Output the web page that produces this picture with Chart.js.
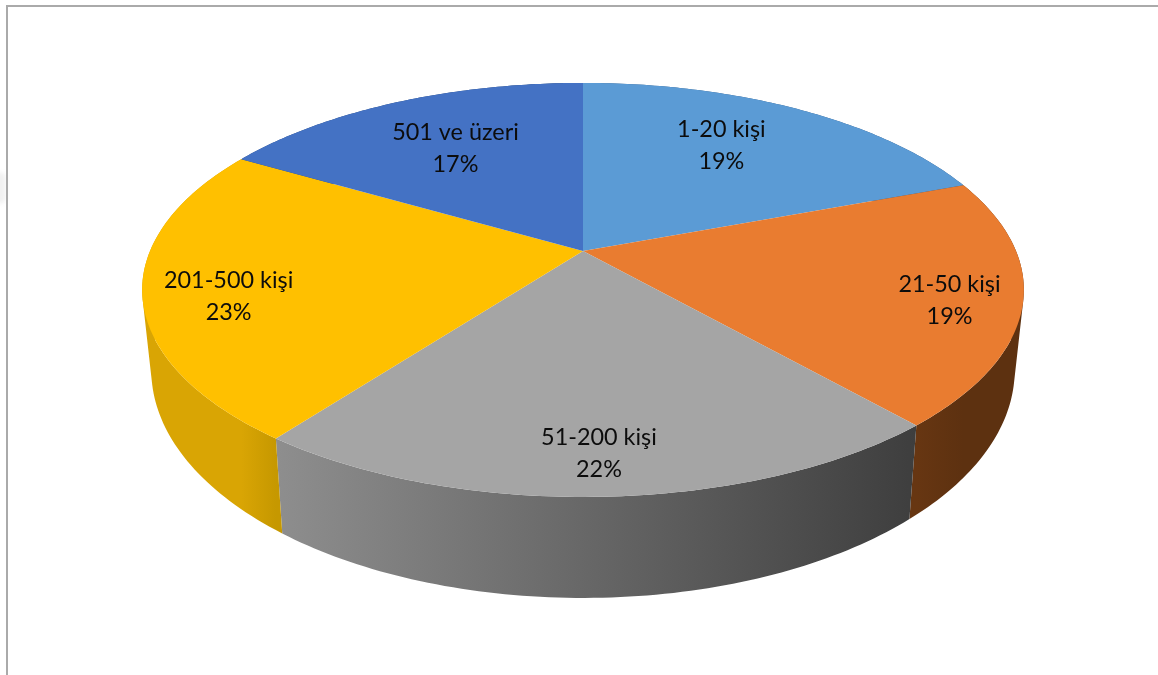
<!DOCTYPE html>
<html>
<head>
<meta charset="utf-8">
<title>Pie</title>
<script src="https://cdn.jsdelivr.net/npm/chart.js@4/dist/chart.umd.js"></script>
<style>
  html, body { margin: 0; padding: 0; background: #fff; overflow: hidden; }
  #frame { position: absolute; left: 6px; top: 5px; right: -4px; bottom: -4px;
           border-top: 2px solid #aaa; border-left: 2px solid #aaa; }
  #smudge { position: absolute; left: -8px; top: 172px; width: 14px; height: 32px;
            background: #f1f1f1; border-radius: 7px; filter: blur(2px); }
  #pie { position: absolute; left: 0; top: 0; }
</style>
</head>
<body>
<div id="smudge"></div>
<div id="frame"></div>
<canvas id="pie" width="1158" height="675"></canvas>
<script>
var categories = ['1-20 kişi', '21-50 kişi', '51-200 kişi', '201-500 kişi', '501 ve üzeri'];
var shares = [19.3, 19.2, 21.8, 23.1, 16.6];
var topColors = ['#5b9bd5', '#e97c30', '#a5a5a5', '#ffc000', '#4472c4'];
var wallLeft = ['#37608a', '#673612', '#8e8e8e', '#d9a504', '#2a4a80'];
var wallRight = ['#2f5480', '#5d3110', '#3e3e3e', '#c69800', '#22406f'];

// label placement on the disc: radius fraction and turn (deg) away from the slice middle
var labelRadius = [0.69, 0.84, 0.85, 0.816, 0.66];
var labelTurn = [-4, 2, 0.2, -3.7, 0];

// perspective of the tilted disc, top face and bottom face
var topFace = { x: 583, y: 251, a: 433, b: 199.7 };
var bottomFace = { x: 583, y: 327, a: 424, b: 220 };
var lean = -0.188;

function project(face, angle, r) {
  var u = Math.cos(angle) * r;
  var v = Math.sin(angle) * r;
  var d = 1 + lean * v;
  return { x: face.x + face.a * u / d, y: face.y + face.b * v / d };
}

function rim(ctx, face, from, to) {
  var steps = 80;
  for (var i = 0; i <= steps; i++) {
    var p = project(face, from + (to - from) * i / steps, 1);
    ctx.lineTo(p.x, p.y);
  }
}

// adds a quad to the path, always with the same winding so overlaps never cancel
function addQuad(ctx, q) {
  var area = 0;
  for (var i = 0; i < 4; i++) {
    var n = q[(i + 1) % 4];
    area += q[i].x * n.y - n.x * q[i].y;
  }
  if (area < 0) q.reverse();
  ctx.moveTo(q[0].x, q[0].y);
  ctx.lineTo(q[1].x, q[1].y);
  ctx.lineTo(q[2].x, q[2].y);
  ctx.lineTo(q[3].x, q[3].y);
  ctx.closePath();
}

var disc3d = {
  id: 'disc3d',
  beforeDatasetDraw: function (chart) {
    var ctx = chart.ctx;
    var arcs = chart.getDatasetMeta(0).data;
    ctx.save();

    // side walls first, the top face covers whatever is behind
    arcs.forEach(function (arc, i) {
      var a = project(topFace, arc.startAngle, 1);
      var b = project(topFace, arc.endAngle, 1);
      var grad = ctx.createLinearGradient(Math.min(a.x, b.x), 0, Math.max(a.x, b.x), 0);
      grad.addColorStop(0, wallLeft[i]);
      grad.addColorStop(1, wallRight[i]);
      ctx.fillStyle = grad;
      var steps = 80;
      ctx.beginPath();
      for (var s = 0; s < steps; s++) {
        var from = arc.startAngle + (arc.endAngle - arc.startAngle) * s / steps;
        var to = arc.startAngle + (arc.endAngle - arc.startAngle) * (s + 1) / steps;
        addQuad(ctx, [
          project(topFace, from, 1),
          project(topFace, to, 1),
          project(bottomFace, to, 1),
          project(bottomFace, from, 1)
        ]);
      }
      ctx.fill();
    });

    arcs.forEach(function (arc, i) {
      ctx.beginPath();
      ctx.moveTo(topFace.x, topFace.y);
      rim(ctx, topFace, arc.startAngle, arc.endAngle);
      ctx.closePath();
      ctx.fillStyle = topColors[i];
      ctx.fill();
    });

    ctx.font = '23.4px Lato';
    ctx.fillStyle = '#0c0c0c';
    ctx.textAlign = 'center';
    ctx.textBaseline = 'middle';
    arcs.forEach(function (arc, i) {
      var mid = (arc.startAngle + arc.endAngle) / 2 + labelTurn[i] * Math.PI / 180;
      var p = project(topFace, mid, labelRadius[i]);
      ctx.fillText(categories[i], p.x + 1, p.y - 15);
      ctx.fillText(Math.round(shares[i]) + '%', p.x + 1, p.y + 17);
    });

    ctx.restore();
    return false;
  }
};

new Chart(document.getElementById('pie').getContext('2d'), {
  type: 'pie',
  data: {
    labels: categories,
    datasets: [{
      data: shares,
      backgroundColor: topColors,
      borderWidth: 0
    }]
  },
  options: {
    responsive: false,
    animation: false,
    plugins: {
      legend: { display: false },
      tooltip: { enabled: false }
    }
  },
  plugins: [disc3d]
});
</script>
</body>
</html>
